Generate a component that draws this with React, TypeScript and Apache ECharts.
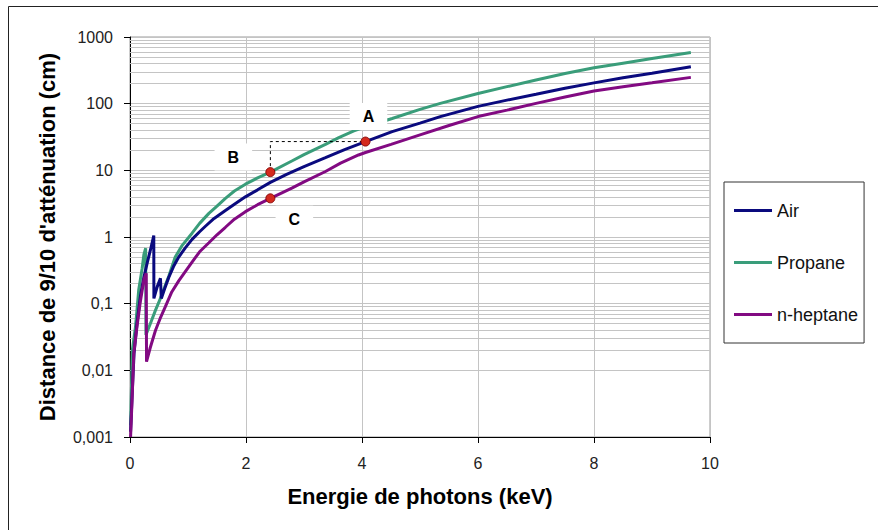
import React, { useEffect, useRef } from "react";
import * as echarts from "echarts";

const FONT = "'Liberation Sans', Arial, sans-serif";

const Y_LABELS = ["0,001", "0,01", "0,1", "1", "10", "100", "1000"];
const X_TICKS = [0, 2, 4, 6, 8, 10];

const AIR_E = [0.01, 0.04, 0.07, 0.12, 0.18, 0.24, 0.3, 0.36, 0.41, 0.412, 0.47, 0.525, 0.54, 0.6, 0.67, 0.75, 0.84, 0.95, 1.07, 1.2, 1.3, 1.45, 1.645, 1.8, 1.99, 2.2, 2.42, 2.7, 3.0, 3.37, 3.7, 4.06, 4.52, 5.0, 5.35, 6.0, 6.5, 7.0, 7.5, 8.0, 8.5, 9.0, 9.67];
const AIR_V = [0.0012, 0.005, 0.018, 0.05, 0.13, 0.25, 0.42, 0.68, 1.05, 0.12, 0.18, 0.24, 0.12, 0.17, 0.25, 0.36, 0.5, 0.68, 0.92, 1.2, 1.45, 1.9, 2.5, 3.1, 4.0, 5.1, 6.6, 8.7, 11.4, 15.5, 20.5, 27, 38, 51, 64, 91, 113, 138, 170, 205, 245, 285, 359];

const PROPANE_E = [0.01, 0.04, 0.095, 0.15, 0.21, 0.24, 0.27, 0.275, 0.35, 0.44, 0.525, 0.6, 0.67, 0.78, 0.9, 1.07, 1.2, 1.36, 1.5, 1.645, 1.8, 1.99, 2.2, 2.42, 2.79, 3.0, 3.37, 3.6, 3.86, 4.06, 4.52, 5.0, 5.35, 6.0, 6.5, 7.0, 7.5, 8.0, 8.5, 9.0, 9.67];
const PROPANE_V = [0.0015, 0.02, 0.045, 0.16, 0.34, 0.55, 0.68, 0.034, 0.05, 0.08, 0.12, 0.18, 0.26, 0.5, 0.75, 1.14, 1.6, 2.26, 2.9, 3.8, 4.9, 6.2, 7.7, 9.4, 13.8, 17.2, 24.5, 31, 39, 45, 60, 82, 101, 142, 180, 226, 283, 345, 405, 475, 585];

const HEPTANE_E = [0.01, 0.04, 0.065, 0.12, 0.18, 0.24, 0.28, 0.285, 0.35, 0.44, 0.52, 0.61, 0.72, 0.84, 0.95, 1.07, 1.2, 1.36, 1.5, 1.645, 1.8, 1.99, 2.2, 2.42, 2.79, 3.0, 3.37, 3.63, 3.94, 4.06, 4.5, 5.0, 5.5, 6.0, 6.5, 7.0, 7.5, 8.0, 8.5, 9.0, 9.67];
const HEPTANE_V = [0.001, 0.0045, 0.018, 0.045, 0.11, 0.23, 0.285, 0.0135, 0.022, 0.04, 0.06, 0.09, 0.15, 0.22, 0.3, 0.42, 0.6, 0.82, 1.08, 1.4, 1.85, 2.4, 3.05, 3.8, 5.4, 6.7, 9.6, 12.8, 17, 18.5, 24.5, 34, 47, 64, 80, 101, 126, 155, 180, 206, 248];

const POINT_NAMES = ["A", "B", "C"];
const POINT_E = [4.06, 2.42, 2.42];
const POINT_V = [27, 9.4, 3.8];

const GUIDE_E = [2.42, 2.42, 4.06];
const GUIDE_V = [9.4, 27, 27];

const DECADES = [0.001, 0.01, 0.1, 1, 10, 100];
const MINOR_STEPS = [2, 3, 4, 5, 6, 7, 8, 9];

const pairs = (xs: number[], ys: number[]) => xs.map((x, i) => [x, ys[i]]);

export default function App() {
  const ref = useRef<HTMLDivElement>(null);

  useEffect(() => {
    if (!ref.current) return;
    const chart = echarts.init(ref.current, null, { renderer: "svg" });

    const minorLines: { yAxis: number }[] = [];
    DECADES.forEach((d) => MINOR_STEPS.forEach((m) => minorLines.push({ yAxis: d * m })));

    const labelOffsets: Record<string, number[]> = { A: [3, -25], B: [-37, -15], C: [24, 21] };

    const option: any = {
      animation: false,
      backgroundColor: "#fff",
      graphic: [
        {
          type: "rect",
          silent: true,
          z: -10,
          shape: { x: 8.5, y: 6.5, width: 900, height: 600 },
          style: { fill: "none", stroke: "#222", lineWidth: 1 },
        },
      ],
      grid: {
        left: 130,
        right: 168,
        top: 37,
        bottom: 93,
        show: true,
        borderColor: "#9a9a9a",
        borderWidth: 1,
      },
      legend: {
        orient: "vertical",
        left: 724,
        top: 182,
        data: ["Air", "Propane", "n-heptane"],
        icon: "rect",
        itemWidth: 38,
        itemHeight: 3,
        itemGap: 31,
        padding: [18, 6, 18, 10],
        borderColor: "#333",
        borderWidth: 1,
        textStyle: { fontSize: 18, color: "#111", fontFamily: FONT, lineHeight: 21 },
      },
      xAxis: {
        type: "value",
        min: X_TICKS[0],
        max: X_TICKS[X_TICKS.length - 1],
        interval: 2,
        name: "Energie de photons (keV)",
        nameLocation: "middle",
        nameGap: 48,
        nameTextStyle: { fontSize: 22, fontWeight: "bold", color: "#000", fontFamily: FONT },
        axisLine: { show: true, onZero: false, lineStyle: { color: "#000", width: 1 } },
        axisTick: { show: true, length: 6, lineStyle: { color: "#000" } },
        axisLabel: { fontSize: 16, color: "#222", margin: 18, fontFamily: FONT },
        splitLine: { show: true, lineStyle: { color: "#c4c4c4", width: 1 } },
      },
      yAxis: {
        type: "log",
        logBase: 10,
        min: 0.001,
        max: 1000,
        splitNumber: 6,
        name: "Distance de 9/10 d'atténuation (cm)",
        nameLocation: "middle",
        nameGap: 72,
        nameRotate: 90,
        nameTextStyle: { fontSize: 22, fontWeight: "bold", color: "#000", fontFamily: FONT },
        axisLine: { show: true, lineStyle: { color: "#000", width: 1 } },
        axisTick: { show: true, length: 6, lineStyle: { color: "#000" } },
        axisLabel: {
          fontSize: 16,
          color: "#222",
          margin: 17,
          fontFamily: FONT,
          formatter: (v: number) => Y_LABELS[Math.round(Math.log10(v)) + 3] ?? "",
        },
        splitLine: { show: true, lineStyle: { color: "#c4c4c4", width: 1 } },
      },
      series: [
        {
          type: "line",
          name: "minor-grid",
          data: [],
          silent: true,
          z: 1,
          markLine: {
            silent: true,
            z: 1,
            symbol: ["none", "none"],
            label: { show: false },
            lineStyle: { color: "#c4c4c4", width: 1, type: "solid" },
            emphasis: { disabled: true },
            data: minorLines,
          },
        },
        {
          type: "line",
          name: "Propane",
          color: "#3a9d7a",
          data: pairs(PROPANE_E, PROPANE_V),
          showSymbol: false,
          symbol: "none",
          z: 3,
          lineStyle: { color: "#3a9d7a", width: 3 },
        },
        {
          type: "line",
          name: "Air",
          color: "#0a0a7e",
          data: pairs(AIR_E, AIR_V),
          showSymbol: false,
          symbol: "none",
          z: 3,
          lineStyle: { color: "#0a0a7e", width: 3 },
        },
        {
          type: "line",
          name: "n-heptane",
          color: "#820a82",
          data: pairs(HEPTANE_E, HEPTANE_V),
          showSymbol: false,
          symbol: "none",
          z: 3,
          lineStyle: { color: "#820a82", width: 3 },
        },
        {
          type: "line",
          name: "guide",
          data: pairs(GUIDE_E, GUIDE_V),
          symbol: "none",
          silent: true,
          z: 4,
          lineStyle: { color: "#000", width: 1, type: [3, 3] },
        },
        {
          type: "scatter",
          name: "points",
          z: 10,
          symbolSize: 9,
          itemStyle: { color: "#d42a1e", borderColor: "#8a0a0a", borderWidth: 1, opacity: 1 },
          label: {
            show: true,
            position: "inside",
            backgroundColor: "#fff",
            padding: [6, 13, 5, 13],
            fontSize: 16,
            fontWeight: "bold",
            color: "#000",
            fontFamily: FONT,
          },
          data: POINT_NAMES.map((n, i) => ({
            value: [POINT_E[i], POINT_V[i]],
            label: { formatter: n, offset: labelOffsets[n] },
          })),
        },
      ],
    };

    chart.setOption(option);
    return () => chart.dispose();
  }, []);

  return (
    <div
      ref={ref}
      style={{ position: "absolute", left: 0, top: 0, width: 878, height: 530 }}
    />
  );
}
